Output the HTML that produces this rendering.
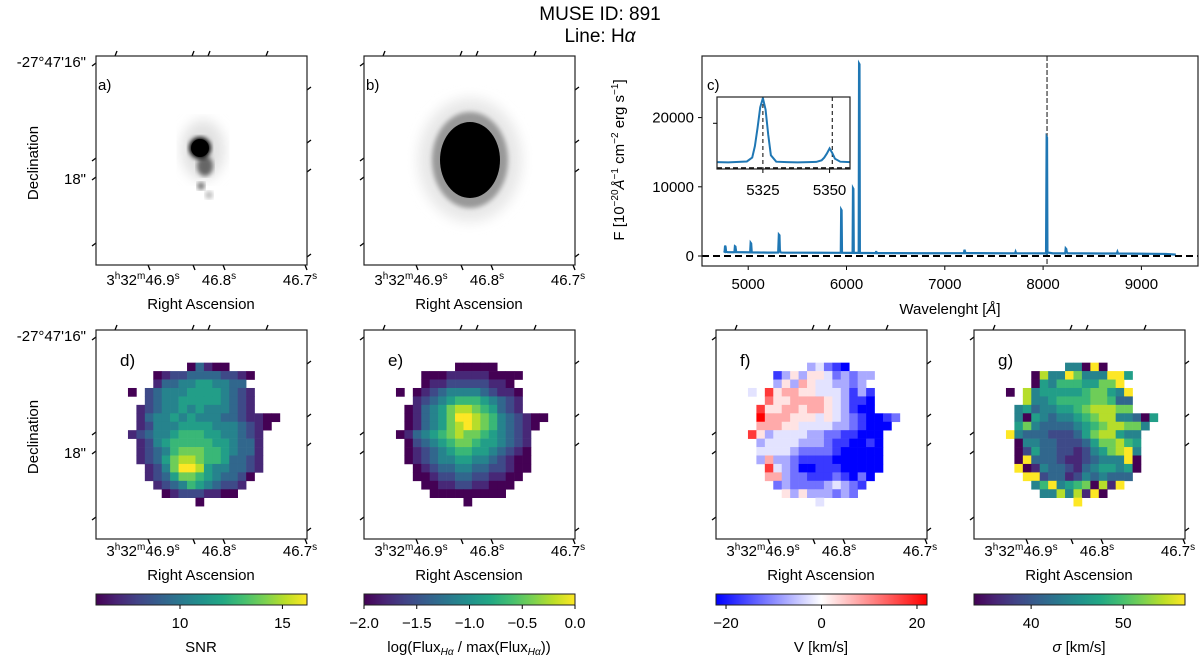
<!DOCTYPE html>
<html><head><meta charset="utf-8"><style>
html,body{margin:0;padding:0;background:#fff;}
svg{display:block;font-family:"Liberation Sans","DejaVu Sans",sans-serif;}
</style></head><body>
<svg id="fig" width="1200" height="658" viewBox="0 0 1200 658" xmlns="http://www.w3.org/2000/svg">
<defs>
<linearGradient id="gViridis" x1="0" x2="1" y1="0" y2="0">
<stop offset="0" stop-color="#440154"/><stop offset="0.1" stop-color="#482475"/><stop offset="0.2" stop-color="#414487"/><stop offset="0.3" stop-color="#355f8d"/><stop offset="0.4" stop-color="#2a788e"/><stop offset="0.5" stop-color="#21918c"/><stop offset="0.6" stop-color="#22a884"/><stop offset="0.7" stop-color="#44bf70"/><stop offset="0.8" stop-color="#7ad151"/><stop offset="0.9" stop-color="#bddf26"/><stop offset="1" stop-color="#fde725"/>
</linearGradient>
<linearGradient id="gBwr" x1="0" x2="1" y1="0" y2="0">
<stop offset="0" stop-color="#0000ff"/><stop offset="0.5" stop-color="#ffffff"/><stop offset="1" stop-color="#ff0000"/>
</linearGradient>
<filter id="blur2"><feGaussianBlur stdDeviation="2.5"/></filter>
<filter id="blur5"><feGaussianBlur stdDeviation="6"/></filter>
<clipPath id="clipA"><rect x="96" y="56" width="211" height="209"/></clipPath>
<clipPath id="clipB"><rect x="364" y="56" width="210" height="209"/></clipPath>
<clipPath id="clipMain"><rect x="702" y="56" width="496" height="210"/></clipPath>
<clipPath id="clipInset"><rect x="717" y="97" width="133" height="72"/></clipPath>
</defs>
<text x="600" y="20" font-size="19" text-anchor="middle">MUSE ID: 891</text>
<text x="600" y="42" font-size="19" text-anchor="middle">Line: H<tspan font-style="italic">α</tspan></text>

<g clip-path="url(#clipA)">
<rect x="96" y="56" width="211" height="209" fill="#fff"/>
<ellipse cx="203" cy="150" rx="22" ry="30" fill="#e2e2e2" filter="url(#blur5)"/>
<ellipse cx="205" cy="166" rx="8" ry="10" fill="#666" filter="url(#blur2)"/>
<ellipse cx="201" cy="186" rx="4" ry="4" fill="#777" filter="url(#blur2)"/>
<ellipse cx="209" cy="195" rx="4" ry="4" fill="#bbb" filter="url(#blur2)"/>
<circle cx="200" cy="148" r="9" fill="#000"/>
<circle cx="200" cy="148" r="11" fill="#000" filter="url(#blur2)"/>
</g>
<g clip-path="url(#clipB)">
<rect x="364" y="56" width="210" height="209" fill="#fff"/>
<ellipse cx="470" cy="160" rx="52" ry="62" fill="#e8e8e8" filter="url(#blur5)"/>
<ellipse cx="470" cy="160" rx="38" ry="48" fill="#999" filter="url(#blur2)"/>
<ellipse cx="470" cy="160" rx="30" ry="38" fill="#000"/>
</g>

<g id="maps"></g>
<g id="spectrum"></g>
</svg>
<script>
const SNR_ROWS = [
".........................",".........................",".........................",".........................",
"...........03100.........",
".......012233332210......",
".......13344554433.......",
"....0.2344455554321......",
"......2344555554321......",
".....12344545444321......",
".....13445454443321100...",
".....1244455554443210....",
"....1234456665544321.....",
".....124566666554331.....",
".....123467776654331.....",
".....123578876653321.....",
"......12479985443321.....",
"......1235776543320......",
".......12346543221.......",
"........012221100........",
"............0............",
".........................",".........................",".........................","........................."];
const FLUX_ROWS = [
".........................",".........................",".........................",".........................",
"...........00000.........",
".......000111110000......",
".......01122222110.......",
"....0.0123444432110......",
"......1234566654321......",
".....01345788765321......",
".....01345799876432100...",
".....0134578987643210....",
"....0134567877654321.....",
".....023456776554321.....",
".....012345665543210.....",
".....012344554432100.....",
"......01233443322100.....",
"......0012233221100......",
".......00112211000.......",
"........000000000........",
"............0............",
".........................",".........................",".........................","........................."];
const VEL_ROWS = [
".........................",".........................",".........................",".........................",
"...........34210.........",
".......135355423233......",
".......35365443323.......",
"....4.8566554443131......",
"......7556666543110......",
".....85566566543100......",
".....96665554543210012...",
".....6665544443321000....",
"....8534444332211000.....",
".....344443332110010.....",
".....444432222100000.....",
".....363321111000000.....",
"......84320011100000.....",
"......6632211121020......",
".......23222234321.......",
"........535333232........",
"............4............",
".........................",".........................",".........................","........................."];
const SIG_ROWS = [
".........................",".........................",".........................",".........................",
"...........44090.........",
".......084497444995......",
".......05466655779.......",
"....0.8455555677549......",
"......8445666677633......",
".....45344556788877......",
".....40543445678844305...",
".....5743333456788774....",
"....9433322235788544.....",
".....044332223577865.....",
".....025332212457894.....",
".....093332112344490.....",
".....901433213455450.....",
"......9923312434333......",
".......46945670819.......",
"........44848190.........",
"............9............",
".........................",".........................",".........................","........................."];
const SNR_RANGE = [5.9, 16.2];
const FLUX_RANGE = [-2.0, 0.0];
const VEL_RANGE = [-22.1, 22.1];
const SIG_RANGE = [33.8, 56.7];
const SNR_TICKS = [10, 15];
const FLUX_TICKS = [-2.0, -1.5, -1.0, -0.5, 0.0];
const VEL_TICKS = [-20, 0, 20];
const SIG_TICKS = [40, 50];

const SPEC_WAVE = [4750,4760,4765,4770,4775,4790,4850,4860,4865,4870,4878,4950,5020,5025,5030,5036,5100,5200,5305,5312,5318,5322,5326,5332,5338,5400,5500,5700,5900,5942,5946,5950,5954,5958,6000,6062,6066,6070,6074,6078,6124,6128,6132,6136,6140,6200,6298,6302,6306,6500,6800,7000,7195,7200,7205,7210,7300,7500,7715,7720,7725,7900,8030,8036,8040,8044,8050,8100,8225,8230,8236,8240,8250,8400,8600,8750,8756,8762,8900,9100,9250,9350];
const SPEC_FLUX = [700,620,1500,1300,600,560,540,560,1400,1350,560,540,530,1900,1800,520,510,490,500,3100,3000,900,600,520,500,480,480,470,460,470,6700,6600,480,460,450,460,9800,9700,460,450,460,27800,27700,450,430,440,420,700,430,410,400,400,420,900,700,420,410,400,390,600,400,390,380,17200,17100,400,500,380,380,1100,1000,600,400,380,360,360,600,360,340,320,300,200];
const SPEC_XTICKS = [5000, 6000, 7000, 8000, 9000];
const SPEC_YTICKS = [0, 10000, 20000];
const LINE_WAVE = 8040;
const INSET_WAVE = [5308,5312,5316,5319,5321,5322,5323,5324,5325,5326,5327,5328,5330,5334,5338,5342,5345,5347,5348,5349,5350,5351,5352,5354,5358];
const INSET_FLUX = [300,290,310,330,500,1000,1800,2700,3100,2600,1500,600,320,300,290,300,310,380,500,680,900,700,450,320,300];
const INSET_XTICKS = [5325, 5350];
const INSET_LINES = [5325, 5351];

const NS = "http://www.w3.org/2000/svg";
function mk(tag, attrs, parent) {
  const e = document.createElementNS(NS, tag);
  for (const k in attrs) e.setAttribute(k, attrs[k]);
  parent.appendChild(e);
  return e;
}
const VIR = [[68,1,84],[72,36,117],[65,68,135],[53,95,141],[42,120,142],[33,145,140],[34,168,132],[68,191,112],[122,209,81],[189,223,38],[253,231,37]];
function viridis(t) {
  t = Math.max(0, Math.min(1, t));
  const p = t * 10, i = Math.min(9, Math.floor(p)), f = p - i;
  const a = VIR[i], b = VIR[i + 1];
  return "rgb(" + a.map((v, k) => Math.round(v + (b[k] - v) * f)).join(",") + ")";
}
function bwr(t) {
  t = Math.max(0, Math.min(1, t));
  if (t < 0.5) { const g = Math.round(255 * t * 2); return "rgb(" + g + "," + g + ",255)"; }
  const g = Math.round(255 * (1 - t) * 2); return "rgb(255," + g + "," + g + ")";
}
const FS = 15;
const mapsG = document.getElementById("maps");

function raLabels(g, fx, y) {
  const t1 = mk("text", {x: fx + 47, y: y, "font-size": FS, "text-anchor": "middle"}, g);
  t1.innerHTML = '3<tspan font-size="10" dy="-6">h</tspan><tspan dy="6">32</tspan><tspan font-size="10" dy="-6">m</tspan><tspan dy="6">46.9</tspan><tspan font-size="10" dy="-6">s</tspan>';
  
  
  const t2 = mk("text", {x: fx + 123, y: y, "font-size": FS, "text-anchor": "middle"}, g);
  t2.innerHTML = '46.8<tspan font-size="10" dy="-6">s</tspan>';
  
  
  const t3 = mk("text", {x: fx + 204, y: y, "font-size": FS, "text-anchor": "middle"}, g);
  t3.innerHTML = '46.7<tspan font-size="10" dy="-6">s</tspan>';
  
  
  const t4 = mk("text", {x: fx + 105, y: y + 24, "font-size": FS, "text-anchor": "middle"}, g);
  t4.textContent = "Right Ascension";
  
  
}
function frameTicks(g, fx, fy) {
  const top = [19, 96, 112, 170], bot = [52, 97, 127, 209], lef = [7, 102, 121, 187], rig = [34, 87, 116, 201];
  let d = "";
  top.forEach(v => d += "M" + (fx + v) + "," + fy + "l2,-5 ");
  bot.forEach(v => d += "M" + (fx + v) + "," + (fy + 209) + "l2,5 ");
  lef.forEach(v => d += "M" + fx + "," + (fy + v) + "l-4,3 ");
  rig.forEach(v => d += "M" + (fx + 211) + "," + (fy + v) + "l4,-3 ");
  const p = mk("path", {d: d, stroke: "#000", "stroke-width": 1.3, fill: "none"}, g);
  
  
  const fr = mk("rect", {x: fx, y: fy, width: 211, height: 209, fill: "none", stroke: "#222", "stroke-width": 1.2}, g);
  
  
}
function decLabels(g, fy) {
  const a = mk("text", {x: 86, y: fy + 15, "font-size": FS, "text-anchor": "end"}, g);
  a.textContent = "-27°47'16\"";
  
  
  const b = mk("text", {x: 86, y: fy + 132, "font-size": FS, "text-anchor": "end"}, g);
  b.textContent = "18\"";
  
  
  const c = mk("text", {x: 0, y: 0, "font-size": FS, "text-anchor": "middle", transform: "translate(38," + (fy + 111) + ") rotate(-90)"}, g);
  c.textContent = "Declination";
  
  
}
function drawMap(name, letter, fx, fy, rows, range, cmap, grad, ticks, tickFmt, cbLabel) {
  const g = mk("g", {}, mapsG);
  
  
  const cell = 8.44, x0 = fx - 1.8, y0 = fy - 1.1;
  const val = d => range[0] + d / 9 * (range[1] - range[0]);
  const norm = v => (v - range[0]) / (range[1] - range[0]);
  rows.forEach((row, r) => {
    for (let c = 0; c < row.length; c++) {
      const ch = row[c];
      if (ch === ".") continue;
      const v = val(+ch);
      const rc = mk("rect", {x: (x0 + c * cell).toFixed(2), y: (y0 + r * cell).toFixed(2), width: cell + 0.3, height: cell + 0.3, fill: cmap(norm(v))}, g);
      
      
    }
  });
  const lb = mk("text", {x: fx + 24, y: fy + 36, "font-size": 17}, g);
  lb.textContent = letter;
  
  
  frameTicks(g, fx, fy);
  raLabels(g, fx, fy + 226);
  const cb = mk("rect", {x: fx, y: 594, width: 211, height: 11, fill: "url(#" + grad + ")", stroke: "#222", "stroke-width": 1}, g);
  
  
  ticks.forEach(t => {
    const x = fx + norm(t) * 211;
    const tl = mk("line", {x1: x, x2: x, y1: 605, y2: 609, stroke: "#000", "stroke-width": 1}, g);
    
    
    const tt = mk("text", {x: x, y: 628, "font-size": FS, "text-anchor": "middle"}, g);
    tt.textContent = tickFmt(t);
    
    
  });
  const cl = mk("text", {x: fx + 105, y: 652, "font-size": FS, "text-anchor": "middle"}, g);
  cl.innerHTML = cbLabel;
  
  
}
const minus = s => s.replace("-", "\u2212");
drawMap("snr-map", "d)", 96, 330, SNR_ROWS, SNR_RANGE, viridis, "gViridis", SNR_TICKS, t => String(t), "SNR");
drawMap("flux-map", "e)", 364, 330, FLUX_ROWS, FLUX_RANGE, viridis, "gViridis", FLUX_TICKS, t => minus(t.toFixed(1)), 'log(Flux<tspan font-size="10" dy="3" font-style="italic">Hα</tspan><tspan dy="-3"> / max(Flux</tspan><tspan font-size="10" dy="3" font-style="italic">Hα</tspan><tspan dy="-3">))</tspan>');
drawMap("velocity-map", "f)", 716, 330, VEL_ROWS, VEL_RANGE, bwr, "gBwr", VEL_TICKS, t => minus(String(t)), "V [km/s]");
drawMap("dispersion-map", "g)", 974, 330, SIG_ROWS, SIG_RANGE, viridis, "gViridis", SIG_TICKS, t => String(t), '<tspan font-style="italic">σ</tspan> [km/s]');
const topG = mk("g", {}, mapsG);


frameTicks(topG, 96, 56);
frameTicks(topG, 364, 56);
raLabels(topG, 96, 285);
raLabels(topG, 364, 285);
decLabels(topG, 52);
decLabels(mapsG, 326);
[["a)", 98, 90], ["b)", 366, 90]].forEach(a => {
  const t = mk("text", {x: a[1], y: a[2], "font-size": FS}, topG);
  t.textContent = a[0];
  
  
});

const sg = document.getElementById("spectrum");
const xs = w => 702 + (w - 4530) * 0.0983;
const ys = f => 256 - f * 0.00692;
const xi = w => 717 + (w - 5307.8) * 2.668;
const yi = f => 169 - f * (72 / 3150);
SPEC_XTICKS.forEach(t => {
  const l = mk("line", {x1: xs(t), x2: xs(t), y1: 266, y2: 270, stroke: "#000"}, sg);
  
  
  const tx = mk("text", {x: xs(t), y: 289, "font-size": FS, "text-anchor": "middle"}, sg);
  tx.textContent = t;
  
  
});
SPEC_YTICKS.forEach(t => {
  const l = mk("line", {x1: 698, x2: 702, y1: ys(t), y2: ys(t), stroke: "#000"}, sg);
  
  
  const tx = mk("text", {x: 694, y: ys(t) + 5, "font-size": FS, "text-anchor": "end"}, sg);
  tx.textContent = t;
  
  
});
const mainG = mk("g", {"clip-path": "url(#clipMain)"}, sg);


const vline = mk("line", {x1: xs(LINE_WAVE), x2: xs(LINE_WAVE), y1: 56, y2: 266, stroke: "#444", "stroke-width": 1.3, "stroke-dasharray": "5,2"}, mainG);


const specPath = mk("polyline", {points: SPEC_WAVE.map((w, i) => xs(w).toFixed(2) + "," + ys(SPEC_FLUX[i]).toFixed(2)).join(" "), fill: "none", stroke: "#1f77b4", "stroke-width": 2.2}, mainG);


const zl = mk("line", {x1: 702, x2: 1198, y1: ys(0), y2: ys(0), stroke: "#000", "stroke-width": 2, "stroke-dasharray": "7,4"}, mainG);


const mf = mk("rect", {x: 702, y: 56, width: 496, height: 210, fill: "none", stroke: "#222", "stroke-width": 1.2}, sg);


const cLab = mk("text", {x: 707, y: 90, "font-size": FS}, sg);
cLab.textContent = "c)";


const xt = mk("text", {x: 950, y: 314, "font-size": FS, "text-anchor": "middle"}, sg);
xt.innerHTML = 'Wavelenght [<tspan font-style="italic">Å</tspan>]';


const yt = mk("text", {x: 0, y: 0, "font-size": FS, "text-anchor": "middle", transform: "translate(624,160) rotate(-90)"}, sg);
yt.innerHTML = 'F [10<tspan font-size="10" dy="-6">−20</tspan><tspan dy="6" font-style="italic">Å</tspan><tspan font-size="10" dy="-6">−1</tspan><tspan dy="6"> cm</tspan><tspan font-size="10" dy="-6">−2</tspan><tspan dy="6"> erg s</tspan><tspan font-size="10" dy="-6">−1</tspan><tspan dy="6">]</tspan>';


const insG = mk("g", {}, sg);


mk("rect", {x: 717, y: 97, width: 133, height: 72, fill: "#fff"}, insG);
const insClip = mk("g", {"clip-path": "url(#clipInset)"}, insG);
INSET_LINES.forEach(w => {
  const l = mk("line", {x1: xi(w), x2: xi(w), y1: 97, y2: 169, stroke: "#000", "stroke-width": 1, "stroke-dasharray": "4,3"}, insClip);
  
  
});
const ip = mk("polyline", {points: INSET_WAVE.map((w, i) => xi(w).toFixed(2) + "," + yi(INSET_FLUX[i]).toFixed(2)).join(" "), fill: "none", stroke: "#1f77b4", "stroke-width": 2}, insClip);


const iz = mk("line", {x1: 717, x2: 850, y1: yi(0) - 1, y2: yi(0) - 1, stroke: "#000", "stroke-width": 1.5, "stroke-dasharray": "5,3"}, insClip);


const ifr = mk("rect", {x: 717, y: 97, width: 133, height: 72, fill: "none", stroke: "#222", "stroke-width": 1.2}, insG);


INSET_XTICKS.forEach(t => {
  const l = mk("line", {x1: xi(t), x2: xi(t), y1: 169, y2: 173, stroke: "#000"}, insG);
  
  
  const tx = mk("text", {x: xi(t), y: 195, "font-size": FS, "text-anchor": "middle"}, insG);
  tx.textContent = t;
  
  
});
const iyt = mk("line", {x1: 713, x2: 717, y1: yi(2000), y2: yi(2000), stroke: "#000"}, insG);


</script>
</body></html>
